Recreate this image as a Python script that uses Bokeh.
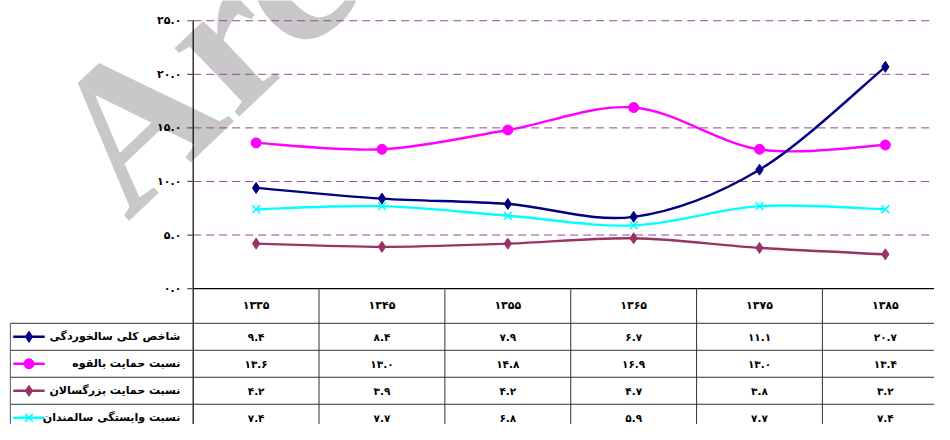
import numpy as np
from bokeh.plotting import figure
from bokeh.models import Range1d
from bokeh.core.properties import value
from bokeh.embed import file_html
from bokeh.resources import INLINE

# ---------------- data ----------------
years = ["1335", "1345", "1355", "1365", "1375", "1385"]
series_names = [
    "شاخص کلی سالخوردگی",
    "نسبت حمایت بالقوه",
    "نسبت حمایت بزرگسالان",
    "نسبت وابستگی سالمندان",
]
aging_index = [9.4, 8.4, 7.9, 6.7, 11.1, 20.7]
potential_support = [13.6, 13.0, 14.8, 16.9, 13.0, 13.4]
adult_support = [4.2, 3.9, 4.2, 4.7, 3.8, 3.2]
elderly_dependency = [7.4, 7.7, 6.8, 5.9, 7.7, 7.4]
y_ticks = [0, 5, 10, 15, 20, 25]

# ---------------- styles ----------------
colors = ["#000080", "#FF00FF", "#993366", "#00FFFF"]
markers = ["diamond", "circle", "diamond", "x"]
msizes = [11, 10, 11, 11]
FA = str.maketrans("0123456789", "۰۱۲۳۴۵۶۷۸۹")
def fa(s):
    return str(s).translate(FA)

FONT = value("DejaVu Sans")

# layout: 1 x-unit = one table column, category i centred at x=i
X_LEFT, X_RIGHT = -2.03125, 5.390625
Y_BOT, Y_TOP = -12.68, 26.888
AXIS_X = -0.5
TABLE_LEFT = -1.953
HEADER_BOT = -3.237
ROW_H = 2.518
ROW_LINES = [HEADER_BOT - ROW_H * k for k in range(4)]
ROW_CENTERS = [HEADER_BOT - ROW_H * (k + 0.5) for k in range(4)]

p = figure(width=934, height=424, x_range=Range1d(X_LEFT, X_RIGHT),
           y_range=Range1d(Y_BOT, Y_TOP), x_axis_type=None, y_axis_type=None,
           toolbar_location=None, output_backend="svg", min_border=0)
p.grid.visible = False
p.outline_line_color = None
p.background_fill_color = "white"
p.border_fill_color = "white"

# watermark
p.text(x=[-1.40], y=[10.9], text=["Archive of SID"], angle=0.76,
       text_font=value("Liberation Serif"), text_font_style="bold",
       text_font_size="205px", text_color="#C8C8C8",
       text_align="left", text_baseline="alphabetic")

# gridlines
grid_vals = [v for v in y_ticks if v > 0]
p.segment(x0=[AXIS_X] * len(grid_vals), x1=[X_RIGHT + 1] * len(grid_vals),
          y0=grid_vals, y1=grid_vals, line_color="#9B3FA0", line_width=1,
          line_dash="8 5")

# axis line, ticks, tick labels
p.segment(x0=[AXIS_X], x1=[AXIS_X], y0=[Y_BOT - 1], y1=[max(y_ticks)],
          line_color="black", line_width=1.2)
p.segment(x0=[-0.547] * len(y_ticks), x1=[AXIS_X] * len(y_ticks),
          y0=y_ticks, y1=y_ticks, line_color="#555555", line_width=1.2)
p.text(x=[-0.594] * len(y_ticks), y=y_ticks,
       text=[fa(f"{v:.1f}") for v in y_ticks], text_font=FONT,
       text_font_style="bold", text_font_size="11px", text_color="black",
       text_align="right", text_baseline="middle")

# table lines
p.segment(x0=[AXIS_X], x1=[X_RIGHT + 1], y0=[0], y1=[0],
          line_color="black", line_width=1.2)
p.segment(x0=[TABLE_LEFT] * 4, x1=[X_RIGHT + 1] * 4, y0=ROW_LINES, y1=ROW_LINES,
          line_color="#333333", line_width=1)
p.segment(x0=[TABLE_LEFT], x1=[TABLE_LEFT], y0=[HEADER_BOT], y1=[Y_BOT - 1],
          line_color="#555555", line_width=1)
col_div = [i + 0.5 for i in range(len(years) - 1)]
p.segment(x0=col_div, x1=col_div, y0=[0] * len(col_div),
          y1=[Y_BOT - 1] * len(col_div), line_color="#333333", line_width=1)

xs = np.arange(len(years), dtype=float)
# header
p.text(x=xs, y=[-1.62] * len(years), text=[fa(y) for y in years],
       text_font=FONT, text_font_style="bold", text_font_size="11px",
       text_color="black", text_align="center", text_baseline="middle")

all_series = [aging_index, potential_support, adult_support, elderly_dependency]

def bezier_parts(x, y):
    x = np.asarray(x, float); y = np.asarray(y, float)
    n = len(x)
    xp = np.concatenate([[x[0]], x, [x[-1]]])
    yp = np.concatenate([[y[0]], y, [y[-1]]])
    out = {k: [] for k in ["x0", "y0", "x1", "y1", "cx0", "cy0", "cx1", "cy1"]}
    for i in range(n - 1):
        a, b, c, d = i, i + 1, i + 2, i + 3
        out["x0"].append(xp[b]); out["y0"].append(yp[b])
        out["x1"].append(xp[c]); out["y1"].append(yp[c])
        out["cx0"].append(xp[b] + (xp[c] - xp[a]) / 6)
        out["cy0"].append(yp[b] + (yp[c] - yp[a]) / 6)
        out["cx1"].append(xp[c] - (xp[d] - xp[b]) / 6)
        out["cy1"].append(yp[c] - (yp[d] - yp[b]) / 6)
    return out

for k in [2, 3, 1, 0]:
    vals = all_series[k]
    col = colors[k]
    p.bezier(**bezier_parts(xs, vals), line_color=col, line_width=2.4)
    if markers[k] == "x":
        p.scatter(xs, vals, marker="x", size=msizes[k], line_color=col, line_width=1.6)
    else:
        p.scatter(xs, vals, marker=markers[k], size=msizes[k], fill_color=col, line_color=col)

    # table row
    rc = ROW_CENTERS[k]
    p.segment(x0=[-1.93], x1=[-1.68], y0=[rc], y1=[rc], line_color=col, line_width=2.4)
    if markers[k] == "x":
        p.scatter([-1.805], [rc], marker="x", size=msizes[k], line_color=col, line_width=1.6)
    else:
        p.scatter([-1.805], [rc], marker=markers[k], size=msizes[k], fill_color=col, line_color=col)
    p.text(x=[-0.602], y=[rc], text=[series_names[k]], text_font=FONT,
           text_font_style="bold", text_font_size="11px", text_color="black",
           text_align="right", text_baseline="middle")
    p.text(x=xs, y=[rc] * len(xs), text=[fa(f"{v:.1f}") for v in vals],
           text_font=FONT, text_font_style="bold", text_font_size="10.5px",
           text_color="black", text_align="center", text_baseline="middle")

open("out.html", "w").write(file_html(p, INLINE))
